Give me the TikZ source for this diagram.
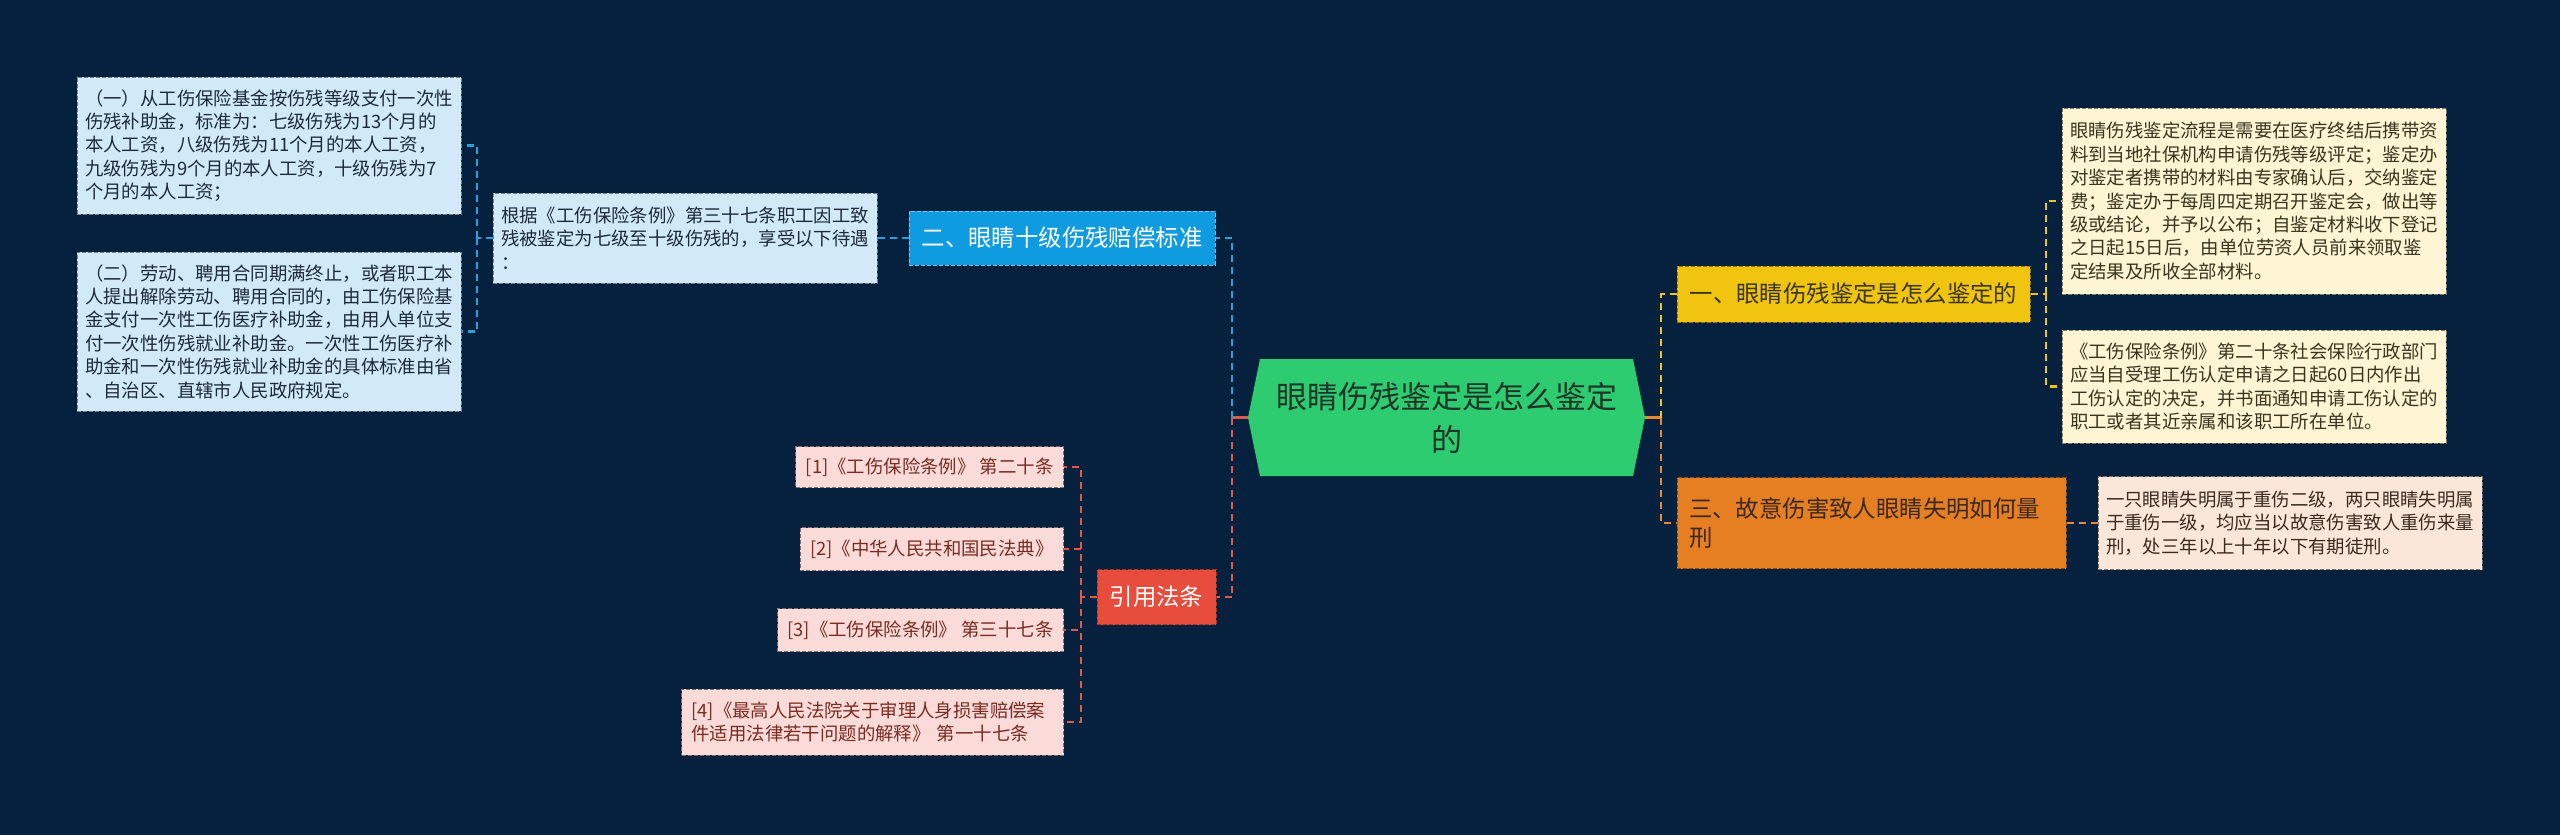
\documentclass[tikz,border=0pt]{standalone}
\usepackage{fontspec}
\newfontfamily\cjk{Noto Sans CJK SC}
\definecolor{bg}{HTML}{05213E}
\definecolor{rootfill}{HTML}{2ECC71}
\definecolor{roottext}{HTML}{1E3527}
\definecolor{bluefill}{HTML}{0E9BE0}
\definecolor{blueline}{HTML}{2A9FE0}
\definecolor{bleaffill}{HTML}{D2EAF8}
\definecolor{bleaftext}{HTML}{1C2B3A}
\definecolor{yelfill}{HTML}{F1C40F}
\definecolor{yelline}{HTML}{F0C419}
\definecolor{yleaffill}{HTML}{FDF5D3}
\definecolor{yleaftext}{HTML}{3A361C}
\definecolor{orfill}{HTML}{E67E22}
\definecolor{orline}{HTML}{E8893A}
\definecolor{oleaffill}{HTML}{FBE7DA}
\definecolor{oleaftext}{HTML}{3A2A1F}
\definecolor{redfill}{HTML}{E74C3C}
\definecolor{redline}{HTML}{E05A4A}
\definecolor{rleaffill}{HTML}{FADBD8}
\definecolor{rleaftext}{HTML}{7A2B24}
\newcommand\lfnt{\cjk\fontsize{18.4}{23.4}\selectfont}
\newcommand\bfnt{\cjk\fontsize{23.4}{29}\selectfont}
\newcommand\rfnt{\cjk\fontsize{31}{43}\selectfont}
\begin{document}
\begin{tikzpicture}[x=1pt,y=-1pt,
  conn/.style={line width=2.2pt, dash pattern=on 7pt off 5pt},
  bluec/.style={conn, draw=blueline},
  redc/.style={conn, draw=redline},
  yelc/.style={conn, draw=yelline},
  orc/.style={conn, draw=orline},
  box/.style={rectangle, line width=1pt, dash pattern=on 4pt off 2pt, inner ysep=0pt},
  leafbox/.style={box, font=\lfnt, align=left, inner xsep=8pt, text width=368pt},
  bleaf/.style={leafbox, fill=bleaffill, draw=bleaffill!55!black, text=bleaftext},
  yleaf/.style={leafbox, fill=yleaffill, draw=yleaffill!50!black, text=yleaftext},
  oleaf/.style={leafbox, fill=oleaffill, draw=oleaffill!50!black, text=oleaftext},
  rleaf/.style={box, font=\lfnt, fill=rleaffill, draw=rleaffill!50!black, text=rleaftext, inner xsep=10pt, anchor=east},
  branch/.style={box, font=\bfnt, inner xsep=12pt},
]
\path[fill=bg] (0,0) rectangle (2560,835);

% root
\fill[rootfill] (1248,417.5) -- (1260,359) -- (1633,359) -- (1645,417.5) -- (1633,476) -- (1260,476) -- cycle;
\node[font=\rfnt, text=roottext, align=center] (root) at (1446.5,417.5) {眼睛伤残鉴定是怎么鉴定\\的};
\coordinate (rootL) at (1248,417.5);
\coordinate (rootR) at (1645,417.5);
\coordinate (jL) at (1232,417.5);
\coordinate (jR) at (1661,417.5);

% left-upper branch
\node[branch, fill=bluefill, draw=bluefill!60!white, text=white, minimum width=306pt, minimum height=54pt] (bbr) at (1062,238) {二、眼睛十级伤残赔偿标准};
\node[bleaf, minimum height=90pt] (mid) at (685,238) {根据《工伤保险条例》第三十七条职工因工致\\残被鉴定为七级至十级伤残的，享受以下待遇\\：};
\node[bleaf, minimum height=137pt] (b1) at (269,145.5) {（一）从工伤保险基金按伤残等级支付一次性\\伤残补助金，标准为：七级伤残为13个月的\\本人工资，八级伤残为11个月的本人工资，\\九级伤残为9个月的本人工资，十级伤残为7\\个月的本人工资；};
\node[bleaf, minimum height=159pt] (b2) at (269,331.5) {（二）劳动、聘用合同期满终止，或者职工本\\人提出解除劳动、聘用合同的，由工伤保险基\\金支付一次性工伤医疗补助金，由用人单位支\\付一次性伤残就业补助金。一次性工伤医疗补\\助金和一次性伤残就业补助金的具体标准由省\\、自治区、直辖市人民政府规定。};
\coordinate (jM) at (477,238);

% left-lower branch
\node[branch, fill=redfill, draw=redfill!70!black, text=white, minimum width=119pt, minimum height=55pt] (rbr) at (1156.5,597) {引用法条};
\node[rleaf, minimum width=265pt, minimum height=41pt] (r1) at (1064,467) {[1]《工伤保险条例》 第二十条};
\node[rleaf, minimum width=258pt, minimum height=43pt] (r2) at (1064,549) {[2]《中华人民共和国民法典》};
\node[rleaf, minimum width=285pt, minimum height=43pt] (r3) at (1064,630) {[3]《工伤保险条例》 第三十七条};
\node[rleaf, align=left, text width=362pt, minimum height=66pt] (r4) at (1064,722) {[4]《最高人民法院关于审理人身损害赔偿案\\件适用法律若干问题的解释》 第一十七条};
\coordinate (jRed) at (1081,597);

% right-upper branch
\node[branch, fill=yelfill, draw=yelfill!60!black, text=yleaftext, minimum width=353pt, minimum height=56pt] (ybr) at (1853.5,294) {一、眼睛伤残鉴定是怎么鉴定的};
\node[yleaf, minimum height=186pt] (y1) at (2254,201) {眼睛伤残鉴定流程是需要在医疗终结后携带资\\料到当地社保机构申请伤残等级评定；鉴定办\\对鉴定者携带的材料由专家确认后，交纳鉴定\\费；鉴定办于每周四定期召开鉴定会，做出等\\级或结论，并予以公布；自鉴定材料收下登记\\之日起15日后，由单位劳资人员前来领取鉴\\定结果及所收全部材料。};
\node[yleaf, minimum height=113pt] (y2) at (2254,386.5) {《工伤保险条例》第二十条社会保险行政部门\\应当自受理工伤认定申请之日起60日内作出\\工伤认定的决定，并书面通知申请工伤认定的\\职工或者其近亲属和该职工所在单位。};
\coordinate (jY) at (2046,294);

% right-lower branch
\node[branch, fill=orfill, draw=orfill!60!black, text=oleaftext, align=left, text width=365pt, minimum height=91pt] (obr) at (1871.5,523) {三、故意伤害致人眼睛失明如何量\\刑};
\node[oleaf, minimum height=93pt] (o1) at (2290,523) {一只眼睛失明属于重伤二级，两只眼睛失明属\\于重伤一级，均应当以故意伤害致人重伤来量\\刑，处三年以上十年以下有期徒刑。};

% connectors
\draw[line width=2.2pt, draw=redline] (rootL) -- (jL);
\draw[bluec] (jL) |- (bbr.east);
\draw[redc] (jL) |- (rbr.east);
\draw[line width=2.2pt, draw=orline] (rootR) -- (jR);
\draw[yelc] (jR) |- (ybr.west);
\draw[orc] (jR) |- (obr.west);

\draw[bluec] (bbr.west) -- (mid.east);
\draw[bluec] (mid.west) -- (jM);
\draw[bluec] (jM) |- (b1.east);
\draw[bluec] (jM) |- (b2.east);

\draw[redc] (rbr.west) -- (jRed);
\draw[redc] (jRed) |- (r1.east);
\draw[redc] (jRed) |- (r2.east);
\draw[redc] (jRed) |- (r3.east);
\draw[redc] (jRed) |- (r4.east);

\draw[yelc] (ybr.east) -- (jY);
\draw[yelc] (jY) |- (y1.west);
\draw[yelc] (jY) |- (y2.west);

\draw[orc] (obr.east) -- (o1.west);
\end{tikzpicture}
\end{document}
